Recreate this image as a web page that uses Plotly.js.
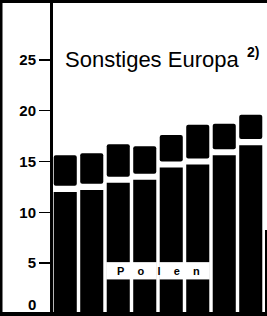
<!DOCTYPE html>
<html><head><meta charset="utf-8">
<script src="https://cdn.plot.ly/plotly-3.0.1.min.js"></script>
<style>html,body{margin:0;padding:0;background:#fff;overflow:hidden}#chart{width:267px;height:316px}</style>
</head><body><div id="chart"></div>
<script>
// ---- data ----
const categories = ["1", "2", "3", "4", "5", "6", "7", "8"];
const lowerPart = [12.0, 12.2, 12.9, 13.2, 14.4, 14.7, 15.6, 16.6];
const totalHeight = [15.6, 15.8, 16.7, 16.5, 17.6, 18.6, 18.7, 19.6];
const polenValues = [null, null, 3.4, 3.4, 3.4, 3.4, null, null];
const yTickVals = [5, 10, 15, 20, 25];
const yTickText = ["5", "10", "15", "20", "25"];
const titleText = "Sonstiges Europa";
const footnoteText = "2)";
const polenLabel = "P\u2003\u2009o\u2003\u2009l\u2003\u2009e\u2003\u2009n";

// ---- layout helpers ----
const W = 267, H = 316, M = {l: 52, r: 3, t: 3, b: 2};
const pw = W - M.l - M.r, ph = H - M.t - M.b;
const px = x => (x - M.l) / pw;
const py = y => (H - M.b - y) / ph;
const GAP = 0.6, BAND = 1.7, BW = 0.87;

const traces = [
  {type: 'bar', x: categories, y: lowerPart, width: BW,
   marker: {color: '#000', cornerradius: 2}, hoverinfo: 'skip'},
  {type: 'bar', x: categories, y: totalHeight.map((t, i) => t - lowerPart[i] - GAP),
   base: lowerPart.map(v => v + GAP), width: BW,
   marker: {color: '#000', cornerradius: 2}, hoverinfo: 'skip'},
  {type: 'bar', x: categories, y: polenValues.map(v => v == null ? null : BAND),
   base: polenValues, width: BW + 0.04,
   marker: {color: '#fff'}, hoverinfo: 'skip'}
];

const rect = (x0, y0, x1, y1) => ({type: 'rect', xref: 'paper', yref: 'paper',
  x0: px(x0), x1: px(x1), y0: py(y1), y1: py(y0),
  fillcolor: '#000', line: {width: 0}});

const layout = {
  width: W, height: H,
  margin: M,
  paper_bgcolor: '#fff', plot_bgcolor: '#fff',
  showlegend: false,
  barmode: 'overlay',
  xaxis: {type: 'category', range: [-0.5, 7.5], showticklabels: false, ticks: '',
          showgrid: false, zeroline: false, showline: false, fixedrange: true},
  yaxis: {range: [0, ph / 10.17], tickvals: yTickVals, ticktext: yTickText,
          ticks: 'outside', ticklen: 12, tickwidth: 1.5, tickcolor: '#000',
          showgrid: false, zeroline: false, showline: false,
          tickfont: {family: 'Liberation Sans', size: 15, color: '#000', weight: 'bold'}},
  annotations: [
    {xref: 'paper', yref: 'paper', x: px(63), y: py(60), xanchor: 'left', yanchor: 'middle',
     text: titleText, showarrow: false,
     font: {family: 'Liberation Sans', size: 22, color: '#000'}},
    {xref: 'paper', yref: 'paper', x: px(245), y: py(51.5), xanchor: 'left', yanchor: 'middle',
     text: footnoteText, showarrow: false,
     font: {family: 'Liberation Sans', size: 14, color: '#000', weight: 'bold'}},
    {xref: 'paper', yref: 'paper', x: px(38), y: py(304), xanchor: 'right', yanchor: 'middle',
     text: '0', showarrow: false,
     font: {family: 'Liberation Sans', size: 15, color: '#000', weight: 'bold'}},
    {xref: 'x', yref: 'y', x: 3.5, y: 4.25, xanchor: 'center', yanchor: 'middle',
     text: polenLabel, showarrow: false,
     font: {family: 'Liberation Sans', size: 11, color: '#000', weight: 'bold'}}
  ],
  shapes: [
    rect(0, 0, 2.5, 316),      // left border
    rect(0, 0, 267, 3),        // top border
    rect(0, 312, 267, 316),    // bottom border
    rect(50, 0, 53, 316),      // y axis line
    rect(265, 230, 267, 316)   // right partial line
  ]
};

Plotly.newPlot('chart', traces, layout, {displayModeBar: false, staticPlot: true});
</script>
</body></html>
